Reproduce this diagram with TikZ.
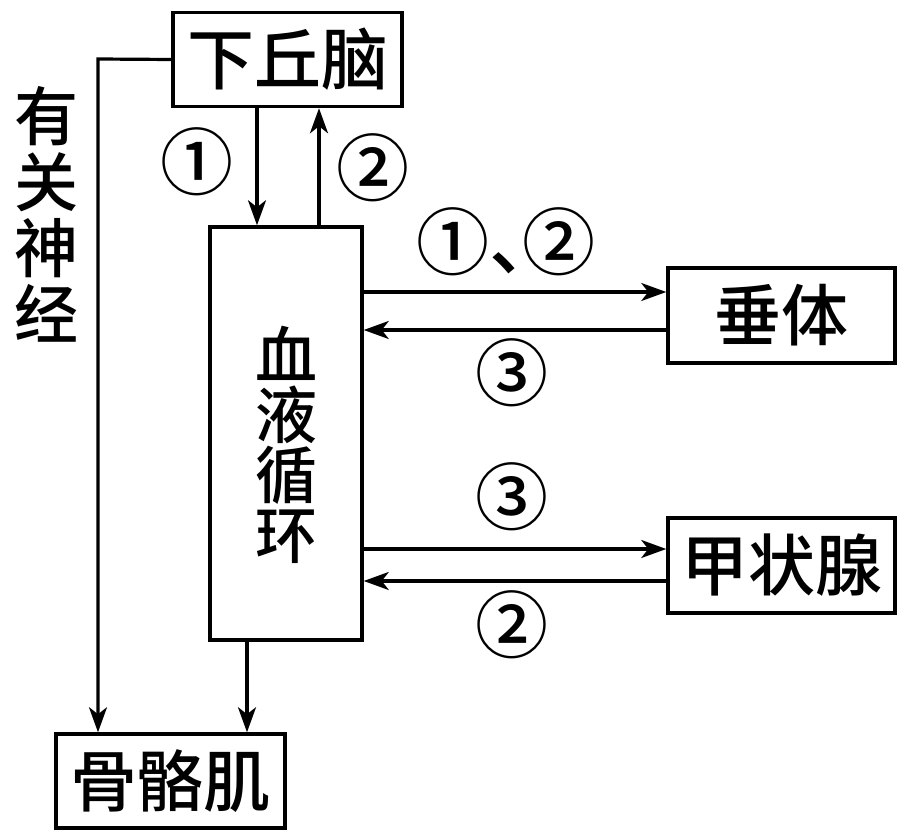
\documentclass[tikz,border=0pt]{standalone}
\usepackage{fontspec}
\newfontfamily\cjkm{Noto Sans CJK SC Medium}
\usetikzlibrary{arrows.meta}
\begin{document}
\begin{tikzpicture}[x=1pt,y=-1pt,
  box/.style={draw,line width=3.5pt,inner sep=0pt,font=\cjkm\fontsize{67}{67}\selectfont},
  conn/.style={line width=3.2pt,-{Stealth[length=25pt,width=18pt,inset=7pt]}},
  lbl/.style={inner sep=0pt,font=\cjkm\fontsize{73}{73}\selectfont},
  vtext/.style={inner sep=0pt,align=center,font=\cjkm\fontsize{62}{60}\selectfont},
  ntext/.style={inner sep=0pt,align=center,font=\cjkm\fontsize{64}{66}\selectfont}]
\useasboundingbox (0,0) rectangle (914,840);
% boxes
\node[box,minimum width=229pt,minimum height=94pt] (hyp) at (287.5,59.5) {下丘脑};
\node[box,minimum width=152pt,minimum height=413pt] (blood) at (286,433.5) {};
\node[vtext] (bloodtext) at (286,445) {血\\液\\循\\环};
\node[box,minimum width=227pt,minimum height=95pt] (pit) at (781.5,315.5) {垂体};
\node[box,minimum width=227pt,minimum height=95pt] (thy) at (781.5,565.5) {甲状腺};
\node[box,minimum width=229pt,minimum height=94pt] (bone) at (170.5,781) {骨骼肌};
% vertical text
\node[ntext] (nerve) at (47,214) {有\\关\\神\\经};
% helper coordinates
\coordinate (n1) at (98,59);
\coordinate (xa) at (257,0);
\coordinate (xb) at (319,0);
\coordinate (xc) at (247,0);
\coordinate (ya) at (0,292);
\coordinate (yb) at (0,330);
\coordinate (yc) at (0,549);
\coordinate (yd) at (0,581);
% connectors
\draw[conn] (hyp.west) -- (n1) -- (n1 |- bone.north);
\draw[conn] (hyp.south -| xa) -- (blood.north -| xa);
\draw[conn] (blood.north -| xb) -- (hyp.south -| xb);
\draw[conn] (blood.east |- ya) -- (pit.west |- ya);
\draw[conn] (pit.west |- yb) -- (blood.east |- yb);
\draw[conn] (blood.east |- yc) -- (thy.west |- yc);
\draw[conn] (thy.west |- yd) -- (blood.east |- yd);
\draw[conn] (blood.south -| xc) -- (bone.north -| xc);
% labels
\node[lbl] (l1) at (197,162) {①};
\node[lbl] (l2) at (373,168) {②};
\node[lbl] (l3) at (506,242) {①\kern0pt、\kern-40pt②};
\node[lbl] (l4) at (512,373) {③};
\node[lbl] (l5) at (512,497) {③};
\node[lbl] (l6) at (512,625) {②};
\end{tikzpicture}
\end{document}
